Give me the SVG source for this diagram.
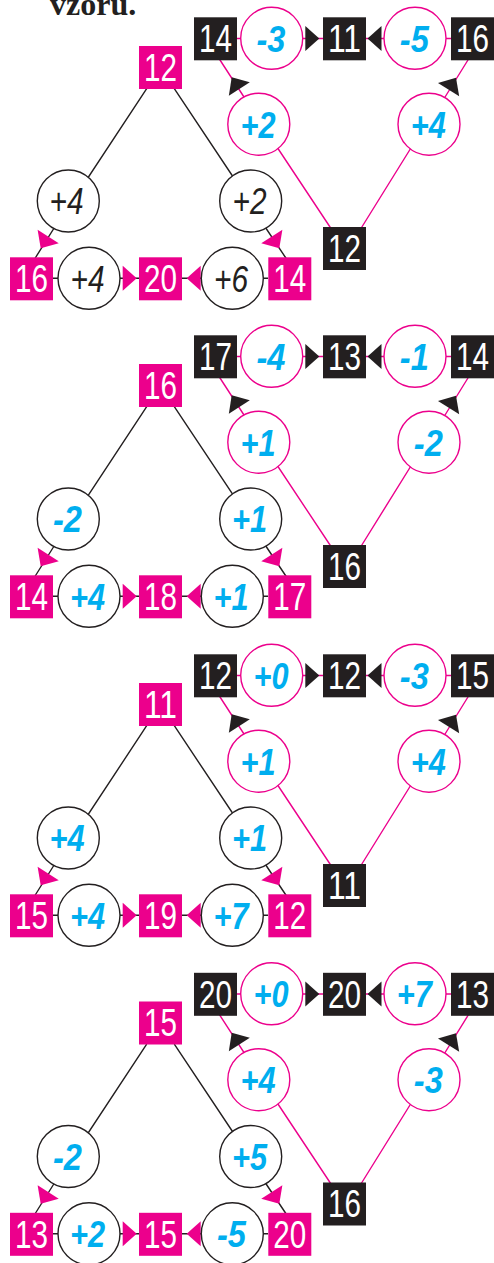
<svg xmlns="http://www.w3.org/2000/svg" xmlns:xlink="http://www.w3.org/1999/xlink" width="494" height="1263" viewBox="0 0 494 1263">
<style>
.sqp{fill:#EC008C}
.sqb{fill:#231F20}
.st{font-family:"Liberation Sans",Arial,sans-serif;font-size:38px;fill:#fff;text-anchor:middle}
.cp{fill:#fff;stroke:#EC008C;stroke-width:1.4}
.cb{fill:#fff;stroke:#231F20;stroke-width:1.4}
.ct{font-family:"Liberation Sans",Arial,sans-serif;font-size:37px;font-style:italic;font-weight:bold;fill:#00AEEF;text-anchor:middle}
.ck{font-weight:normal;fill:#231F20}
.lp{stroke:#EC008C;stroke-width:1.4;fill:none}
.lb{stroke:#231F20;stroke-width:1.4;fill:none}
.ab{fill:#231F20}
.ap{fill:#EC008C}
.title{font-family:"Liberation Serif","Times New Roman",serif;font-size:32px;font-weight:bold;fill:#231F20}
</style>
<defs>
<path id="ah" d="M0,0 L-14,-12.5 L-14,12.5 Z"/>
</defs>
<rect width="494" height="1263" fill="#fff"/>
<g id="title"><text class="title" x="50" y="15">vzoru.</text></g>

<!-- Panel 1 -->
<g id="panel1">
<g id="p1-connectors">
<path class="lb" d="M146.7,88.7 L73.3,200 M62.3,215 L34,260 M174.3,88.7 L248.5,200 M257.1,215 L287.2,260 M52,278.3 H268"/>
<path class="lp" d="M236,38.5 H451 M218.7,58 L252.4,110 M269,135 L332,230 M360,230 L419,135 M437,110 L469.2,58"/>
<use href="#ah" class="ab" transform="translate(319.3,38.5)"/>
<use href="#ah" class="ab" transform="translate(367.5,38.5) rotate(180)"/>
<use href="#ah" class="ab" transform="translate(231.7,77.3) rotate(-123)"/>
<use href="#ah" class="ab" transform="translate(456,77.7) rotate(-58)"/>
<use href="#ah" class="ap" transform="translate(136.7,278.3)"/>
<use href="#ah" class="ap" transform="translate(186.7,278.3) rotate(180)"/>
<use href="#ah" class="ap" transform="translate(40.7,248.3) rotate(122.3)"/>
<use href="#ah" class="ap" transform="translate(279.3,248.3) rotate(57.7)"/>
</g>
<g id="p1-t1"><rect class="sqb" x="194" y="17.3" width="43" height="43"/><text class="st" x="215.5" y="52" textLength="33" lengthAdjust="spacingAndGlyphs">14</text></g>
<g id="p1-c1"><circle class="cp" cx="271.7" cy="38.3" r="31"/><text class="ct" x="271" y="51.7" textLength="29" lengthAdjust="spacingAndGlyphs">-3</text></g>
<g id="p1-t2"><rect class="sqb" x="323" y="17.3" width="43" height="43"/><text class="st" x="344.5" y="52" textLength="33" lengthAdjust="spacingAndGlyphs">11</text></g>
<g id="p1-c2"><circle class="cp" cx="415" cy="38.3" r="31"/><text class="ct" x="414.3" y="51.7" textLength="29" lengthAdjust="spacingAndGlyphs">-5</text></g>
<g id="p1-t3"><rect class="sqb" x="451" y="17.3" width="43" height="43"/><text class="st" x="472.5" y="52" textLength="33" lengthAdjust="spacingAndGlyphs">16</text></g>
<g id="p1-r1"><circle class="cp" cx="258.8" cy="124.2" r="31"/><text class="ct" x="258" y="137.6" textLength="35" lengthAdjust="spacingAndGlyphs">+2</text></g>
<g id="p1-r2"><circle class="cp" cx="429" cy="124.2" r="31"/><text class="ct" x="428.3" y="137.6" textLength="35" lengthAdjust="spacingAndGlyphs">+4</text></g>
<g id="p1-rb"><rect class="sqb" x="323" y="227" width="43" height="43"/><text class="st" x="344.5" y="261.7" textLength="33" lengthAdjust="spacingAndGlyphs">12</text></g>
<g id="p1-top"><rect class="sqp" x="139" y="46" width="43" height="43"/><text class="st" x="160.5" y="80.7" textLength="33" lengthAdjust="spacingAndGlyphs">12</text></g>
<g id="p1-m1"><circle class="cb" cx="68.3" cy="201" r="31"/><text class="ct ck" x="66.5" y="214.4" textLength="34" lengthAdjust="spacingAndGlyphs">+4</text></g>
<g id="p1-m2"><circle class="cb" cx="250.7" cy="201" r="31"/><text class="ct ck" x="249.5" y="214.4" textLength="34" lengthAdjust="spacingAndGlyphs">+2</text></g>
<g id="p1-b1"><rect class="sqp" x="10" y="257.3" width="43" height="43"/><text class="st" x="31.5" y="292" textLength="33" lengthAdjust="spacingAndGlyphs">16</text></g>
<g id="p1-b2"><circle class="cb" cx="89" cy="278.3" r="31"/><text class="ct ck" x="87.5" y="291.7" textLength="34" lengthAdjust="spacingAndGlyphs">+4</text></g>
<g id="p1-b3"><rect class="sqp" x="139" y="257.3" width="43" height="43"/><text class="st" x="160.5" y="292" textLength="33" lengthAdjust="spacingAndGlyphs">20</text></g>
<g id="p1-b4"><circle class="cb" cx="232.3" cy="278.3" r="31"/><text class="ct ck" x="231" y="291.7" textLength="34" lengthAdjust="spacingAndGlyphs">+6</text></g>
<g id="p1-b5"><rect class="sqp" x="268.3" y="257.3" width="43" height="43"/><text class="st" x="289.8" y="292" textLength="33" lengthAdjust="spacingAndGlyphs">14</text></g>
</g>

<!-- Panel 2 -->
<g id="panel2" transform="translate(0,318)">
<g id="p2-connectors">
<path class="lb" d="M146.7,88.7 L73.3,200 M62.3,215 L34,260 M174.3,88.7 L248.5,200 M257.1,215 L287.2,260 M52,278.3 H268"/>
<path class="lp" d="M236,38.5 H451 M218.7,58 L252.4,110 M269,135 L332,230 M360,230 L419,135 M437,110 L469.2,58"/>
<use href="#ah" class="ab" transform="translate(319.3,38.5)"/>
<use href="#ah" class="ab" transform="translate(367.5,38.5) rotate(180)"/>
<use href="#ah" class="ab" transform="translate(231.7,77.3) rotate(-123)"/>
<use href="#ah" class="ab" transform="translate(456,77.7) rotate(-58)"/>
<use href="#ah" class="ap" transform="translate(136.7,278.3)"/>
<use href="#ah" class="ap" transform="translate(186.7,278.3) rotate(180)"/>
<use href="#ah" class="ap" transform="translate(40.7,248.3) rotate(122.3)"/>
<use href="#ah" class="ap" transform="translate(279.3,248.3) rotate(57.7)"/>
</g>
<g id="p2-t1"><rect class="sqb" x="194" y="17.3" width="43" height="43"/><text class="st" x="215.5" y="52" textLength="33" lengthAdjust="spacingAndGlyphs">17</text></g>
<g id="p2-c1"><circle class="cp" cx="271.7" cy="38.3" r="31"/><text class="ct" x="271" y="51.7" textLength="29" lengthAdjust="spacingAndGlyphs">-4</text></g>
<g id="p2-t2"><rect class="sqb" x="323" y="17.3" width="43" height="43"/><text class="st" x="344.5" y="52" textLength="33" lengthAdjust="spacingAndGlyphs">13</text></g>
<g id="p2-c2"><circle class="cp" cx="415" cy="38.3" r="31"/><text class="ct" x="414.3" y="51.7" textLength="29" lengthAdjust="spacingAndGlyphs">-1</text></g>
<g id="p2-t3"><rect class="sqb" x="451" y="17.3" width="43" height="43"/><text class="st" x="472.5" y="52" textLength="33" lengthAdjust="spacingAndGlyphs">14</text></g>
<g id="p2-r1"><circle class="cp" cx="258.8" cy="124.2" r="31"/><text class="ct" x="258" y="137.6" textLength="35" lengthAdjust="spacingAndGlyphs">+1</text></g>
<g id="p2-r2"><circle class="cp" cx="429" cy="124.2" r="31"/><text class="ct" x="428.3" y="137.6" textLength="29" lengthAdjust="spacingAndGlyphs">-2</text></g>
<g id="p2-rb"><rect class="sqb" x="323" y="227" width="43" height="43"/><text class="st" x="344.5" y="261.7" textLength="33" lengthAdjust="spacingAndGlyphs">16</text></g>
<g id="p2-top"><rect class="sqp" x="139" y="46" width="43" height="43"/><text class="st" x="160.5" y="80.7" textLength="33" lengthAdjust="spacingAndGlyphs">16</text></g>
<g id="p2-m1"><circle class="cb" cx="68.3" cy="201" r="31"/><text class="ct" x="67.5" y="214.4" textLength="29" lengthAdjust="spacingAndGlyphs">-2</text></g>
<g id="p2-m2"><circle class="cb" cx="250.7" cy="201" r="31"/><text class="ct" x="249.5" y="214.4" textLength="35" lengthAdjust="spacingAndGlyphs">+1</text></g>
<g id="p2-b1"><rect class="sqp" x="10" y="257.3" width="43" height="43"/><text class="st" x="31.5" y="292" textLength="33" lengthAdjust="spacingAndGlyphs">14</text></g>
<g id="p2-b2"><circle class="cb" cx="89" cy="278.3" r="31"/><text class="ct" x="87.5" y="291.7" textLength="35" lengthAdjust="spacingAndGlyphs">+4</text></g>
<g id="p2-b3"><rect class="sqp" x="139" y="257.3" width="43" height="43"/><text class="st" x="160.5" y="292" textLength="33" lengthAdjust="spacingAndGlyphs">18</text></g>
<g id="p2-b4"><circle class="cb" cx="232.3" cy="278.3" r="31"/><text class="ct" x="231" y="291.7" textLength="35" lengthAdjust="spacingAndGlyphs">+1</text></g>
<g id="p2-b5"><rect class="sqp" x="268.3" y="257.3" width="43" height="43"/><text class="st" x="289.8" y="292" textLength="33" lengthAdjust="spacingAndGlyphs">17</text></g>
</g>

<!-- Panel 3 -->
<g id="panel3" transform="translate(0,637)">
<g id="p3-connectors">
<path class="lb" d="M146.7,88.7 L73.3,200 M62.3,215 L34,260 M174.3,88.7 L248.5,200 M257.1,215 L287.2,260 M52,278.3 H268"/>
<path class="lp" d="M236,38.5 H451 M218.7,58 L252.4,110 M269,135 L332,230 M360,230 L419,135 M437,110 L469.2,58"/>
<use href="#ah" class="ab" transform="translate(319.3,38.5)"/>
<use href="#ah" class="ab" transform="translate(367.5,38.5) rotate(180)"/>
<use href="#ah" class="ab" transform="translate(231.7,77.3) rotate(-123)"/>
<use href="#ah" class="ab" transform="translate(456,77.7) rotate(-58)"/>
<use href="#ah" class="ap" transform="translate(136.7,278.3)"/>
<use href="#ah" class="ap" transform="translate(186.7,278.3) rotate(180)"/>
<use href="#ah" class="ap" transform="translate(40.7,248.3) rotate(122.3)"/>
<use href="#ah" class="ap" transform="translate(279.3,248.3) rotate(57.7)"/>
</g>
<g id="p3-t1"><rect class="sqb" x="194" y="17.3" width="43" height="43"/><text class="st" x="215.5" y="52" textLength="33" lengthAdjust="spacingAndGlyphs">12</text></g>
<g id="p3-c1"><circle class="cp" cx="271.7" cy="38.3" r="31"/><text class="ct" x="271" y="51.7" textLength="35" lengthAdjust="spacingAndGlyphs">+0</text></g>
<g id="p3-t2"><rect class="sqb" x="323" y="17.3" width="43" height="43"/><text class="st" x="344.5" y="52" textLength="33" lengthAdjust="spacingAndGlyphs">12</text></g>
<g id="p3-c2"><circle class="cp" cx="415" cy="38.3" r="31"/><text class="ct" x="414.3" y="51.7" textLength="29" lengthAdjust="spacingAndGlyphs">-3</text></g>
<g id="p3-t3"><rect class="sqb" x="451" y="17.3" width="43" height="43"/><text class="st" x="472.5" y="52" textLength="33" lengthAdjust="spacingAndGlyphs">15</text></g>
<g id="p3-r1"><circle class="cp" cx="258.8" cy="124.2" r="31"/><text class="ct" x="258" y="137.6" textLength="35" lengthAdjust="spacingAndGlyphs">+1</text></g>
<g id="p3-r2"><circle class="cp" cx="429" cy="124.2" r="31"/><text class="ct" x="428.3" y="137.6" textLength="35" lengthAdjust="spacingAndGlyphs">+4</text></g>
<g id="p3-rb"><rect class="sqb" x="323" y="227" width="43" height="43"/><text class="st" x="344.5" y="261.7" textLength="33" lengthAdjust="spacingAndGlyphs">11</text></g>
<g id="p3-top"><rect class="sqp" x="139" y="46" width="43" height="43"/><text class="st" x="160.5" y="80.7" textLength="33" lengthAdjust="spacingAndGlyphs">11</text></g>
<g id="p3-m1"><circle class="cb" cx="68.3" cy="201" r="31"/><text class="ct" x="67" y="214.4" textLength="35" lengthAdjust="spacingAndGlyphs">+4</text></g>
<g id="p3-m2"><circle class="cb" cx="250.7" cy="201" r="31"/><text class="ct" x="249.5" y="214.4" textLength="35" lengthAdjust="spacingAndGlyphs">+1</text></g>
<g id="p3-b1"><rect class="sqp" x="10" y="257.3" width="43" height="43"/><text class="st" x="31.5" y="292" textLength="33" lengthAdjust="spacingAndGlyphs">15</text></g>
<g id="p3-b2"><circle class="cb" cx="89" cy="278.3" r="31"/><text class="ct" x="87.5" y="291.7" textLength="35" lengthAdjust="spacingAndGlyphs">+4</text></g>
<g id="p3-b3"><rect class="sqp" x="139" y="257.3" width="43" height="43"/><text class="st" x="160.5" y="292" textLength="33" lengthAdjust="spacingAndGlyphs">19</text></g>
<g id="p3-b4"><circle class="cb" cx="232.3" cy="278.3" r="31"/><text class="ct" x="231" y="291.7" textLength="35" lengthAdjust="spacingAndGlyphs">+7</text></g>
<g id="p3-b5"><rect class="sqp" x="268.3" y="257.3" width="43" height="43"/><text class="st" x="289.8" y="292" textLength="33" lengthAdjust="spacingAndGlyphs">12</text></g>
</g>

<!-- Panel 4 -->
<g id="panel4" transform="translate(0,955.5)">
<g id="p4-connectors">
<path class="lb" d="M146.7,88.7 L73.3,200 M62.3,215 L34,260 M174.3,88.7 L248.5,200 M257.1,215 L287.2,260 M52,278.3 H268"/>
<path class="lp" d="M236,38.5 H451 M218.7,58 L252.4,110 M269,135 L332,230 M360,230 L419,135 M437,110 L469.2,58"/>
<use href="#ah" class="ab" transform="translate(319.3,38.5)"/>
<use href="#ah" class="ab" transform="translate(367.5,38.5) rotate(180)"/>
<use href="#ah" class="ab" transform="translate(231.7,77.3) rotate(-123)"/>
<use href="#ah" class="ab" transform="translate(456,77.7) rotate(-58)"/>
<use href="#ah" class="ap" transform="translate(136.7,278.3)"/>
<use href="#ah" class="ap" transform="translate(186.7,278.3) rotate(180)"/>
<use href="#ah" class="ap" transform="translate(40.7,248.3) rotate(122.3)"/>
<use href="#ah" class="ap" transform="translate(279.3,248.3) rotate(57.7)"/>
</g>
<g id="p4-t1"><rect class="sqb" x="194" y="17.3" width="43" height="43"/><text class="st" x="215.5" y="52" textLength="33" lengthAdjust="spacingAndGlyphs">20</text></g>
<g id="p4-c1"><circle class="cp" cx="271.7" cy="38.3" r="31"/><text class="ct" x="271" y="51.7" textLength="35" lengthAdjust="spacingAndGlyphs">+0</text></g>
<g id="p4-t2"><rect class="sqb" x="323" y="17.3" width="43" height="43"/><text class="st" x="344.5" y="52" textLength="33" lengthAdjust="spacingAndGlyphs">20</text></g>
<g id="p4-c2"><circle class="cp" cx="415" cy="38.3" r="31"/><text class="ct" x="414.3" y="51.7" textLength="35" lengthAdjust="spacingAndGlyphs">+7</text></g>
<g id="p4-t3"><rect class="sqb" x="451" y="17.3" width="43" height="43"/><text class="st" x="472.5" y="52" textLength="33" lengthAdjust="spacingAndGlyphs">13</text></g>
<g id="p4-r1"><circle class="cp" cx="258.8" cy="124.2" r="31"/><text class="ct" x="258" y="137.6" textLength="35" lengthAdjust="spacingAndGlyphs">+4</text></g>
<g id="p4-r2"><circle class="cp" cx="429" cy="124.2" r="31"/><text class="ct" x="428.3" y="137.6" textLength="29" lengthAdjust="spacingAndGlyphs">-3</text></g>
<g id="p4-rb"><rect class="sqb" x="323" y="227" width="43" height="43"/><text class="st" x="344.5" y="261.7" textLength="33" lengthAdjust="spacingAndGlyphs">16</text></g>
<g id="p4-top"><rect class="sqp" x="139" y="46" width="43" height="43"/><text class="st" x="160.5" y="80.7" textLength="33" lengthAdjust="spacingAndGlyphs">15</text></g>
<g id="p4-m1"><circle class="cb" cx="68.3" cy="201" r="31"/><text class="ct" x="67.5" y="214.4" textLength="29" lengthAdjust="spacingAndGlyphs">-2</text></g>
<g id="p4-m2"><circle class="cb" cx="250.7" cy="201" r="31"/><text class="ct" x="249.5" y="214.4" textLength="35" lengthAdjust="spacingAndGlyphs">+5</text></g>
<g id="p4-b1"><rect class="sqp" x="10" y="257.3" width="43" height="43"/><text class="st" x="31.5" y="292" textLength="33" lengthAdjust="spacingAndGlyphs">13</text></g>
<g id="p4-b2"><circle class="cb" cx="89" cy="278.3" r="31"/><text class="ct" x="87.5" y="291.7" textLength="35" lengthAdjust="spacingAndGlyphs">+2</text></g>
<g id="p4-b3"><rect class="sqp" x="139" y="257.3" width="43" height="43"/><text class="st" x="160.5" y="292" textLength="33" lengthAdjust="spacingAndGlyphs">15</text></g>
<g id="p4-b4"><circle class="cb" cx="232.3" cy="278.3" r="31"/><text class="ct" x="231.5" y="291.7" textLength="29" lengthAdjust="spacingAndGlyphs">-5</text></g>
<g id="p4-b5"><rect class="sqp" x="268.3" y="257.3" width="43" height="43"/><text class="st" x="289.8" y="292" textLength="33" lengthAdjust="spacingAndGlyphs">20</text></g>
</g>
</svg>
